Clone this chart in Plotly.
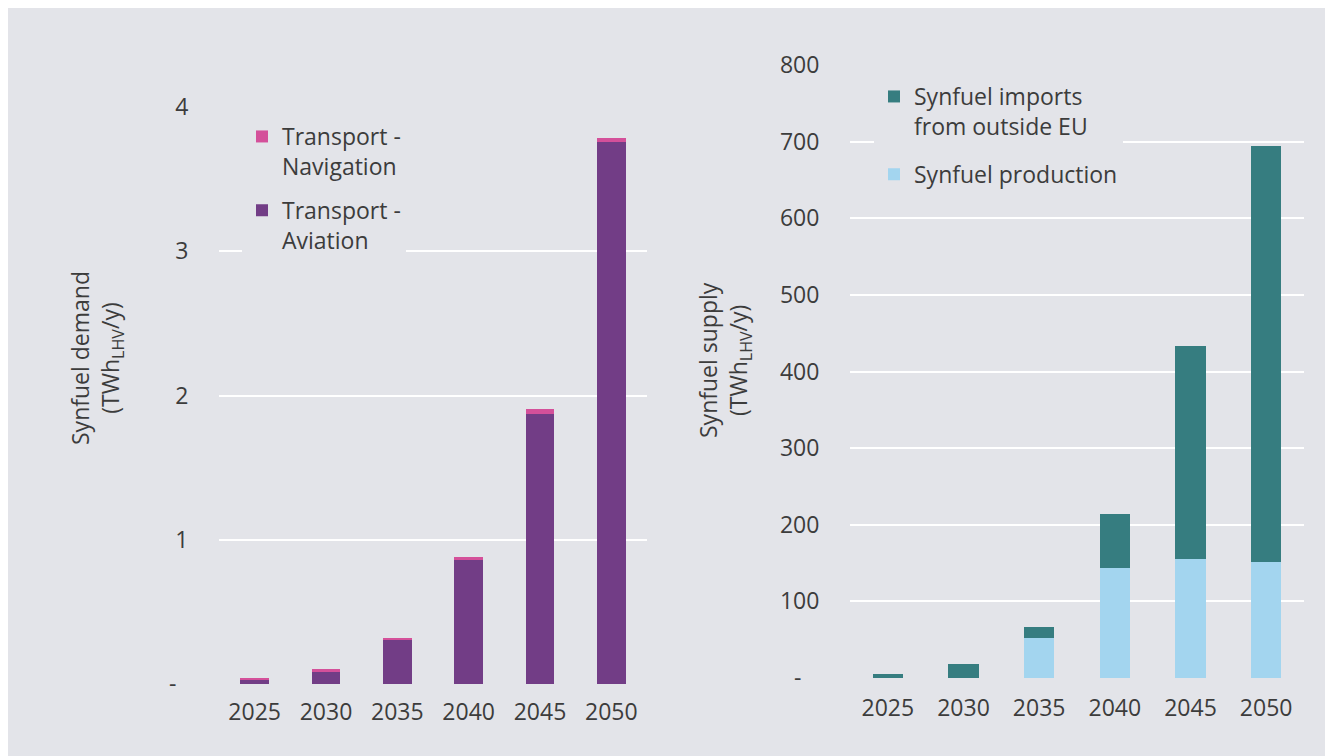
import plotly.graph_objects as go

years = ["2025", "2030", "2035", "2040", "2045", "2050"]

# left panel: synfuel demand (TWh LHV / y)
aviation = [0.03, 0.09, 0.31, 0.86, 1.875, 3.755]
navigation = [0.01, 0.012, 0.008, 0.02, 0.028, 0.03]

# right panel: synfuel supply (TWh LHV / y)
production = [0, 0, 52, 143, 155, 152]
imports = [5, 18, 14.5, 71, 278, 542]

left_ticks = [0, 1, 2, 3, 4]
left_ticktext = ["-\u00a0\u00a0", "1", "2", "3", "4"]
right_ticks = [0, 100, 200, 300, 400, 500, 600, 700, 800]
right_ticktext = ["-\u00a0\u00a0\u00a0", "100", "200", "300", "400", "500", "600", "700", "800"]

BG = "#E3E4E9"
TXT = "#3C3C3C"
FONT = "Open Sans"
FS = 23
W, H = 1333, 756

fig = go.Figure()
fig.add_trace(go.Bar(x=years, y=aviation, name="Transport -<br>Aviation",
                     marker_color="#723D86", marker_line_width=0, legendrank=2,
                     xaxis="x", yaxis="y", legend="legend", legendgroup="a"))
fig.add_trace(go.Bar(x=years, y=navigation, name="Transport -<br>Navigation",
                     marker_color="#D4509A", marker_line_width=0, legendrank=1,
                     xaxis="x", yaxis="y", legend="legend", legendgroup="b"))
fig.add_trace(go.Bar(x=years, y=production, name="Synfuel production",
                     marker_color="#A3D5EF", marker_line_width=0, legendrank=2,
                     xaxis="x2", yaxis="y2", legend="legend2", legendgroup="c"))
fig.add_trace(go.Bar(x=years, y=imports, name="Synfuel imports<br>from outside EU",
                     marker_color="#367D80", marker_line_width=0, legendrank=1,
                     xaxis="x2", yaxis="y2", legend="legend2", legendgroup="d"))

def px(v):
    return v / W

def py(v):
    return 1 - v / H

axis_common = dict(showline=False, zeroline=False, automargin=False,
                   tickfont=dict(family=FONT, size=FS, color=TXT))

fig.update_layout(
    width=W, height=H,
    paper_bgcolor=BG, plot_bgcolor=BG,
    barmode="stack", bargap=0.6,
    margin=dict(l=0, r=0, t=0, b=0, autoexpand=False),
    font=dict(family=FONT, color=TXT, size=FS),
    xaxis=dict(domain=[px(211), px(639)], anchor="y", showgrid=False,
               ticks="outside", ticklen=7, tickcolor="rgba(0,0,0,0)", **axis_common),
    yaxis=dict(domain=[py(676), py(99)], anchor="x", range=[0, 4],
               tickvals=left_ticks, ticktext=left_ticktext,
               showgrid=True, gridcolor="white", gridwidth=2,
               ticks="outside", ticklen=25, tickcolor="rgba(0,0,0,0)", **axis_common),
    xaxis2=dict(domain=[px(842), px(1296)], anchor="y2", showgrid=False,
                ticks="outside", ticklen=9, tickcolor="rgba(0,0,0,0)", **axis_common),
    yaxis2=dict(domain=[py(670), py(57)], anchor="x2", range=[0, 800],
                tickvals=right_ticks, ticktext=right_ticktext,
                showgrid=True, gridcolor="white", gridwidth=2,
                ticks="outside", ticklen=25, tickcolor="rgba(0,0,0,0)", **axis_common),
    legend=dict(x=px(234), y=py(107), xanchor="left", yanchor="top",
                bgcolor=BG, traceorder="grouped", tracegroupgap=11, valign="top",
                font=dict(family=FONT, size=FS, color=TXT)),
    legend2=dict(x=px(866), y=py(67), xanchor="left", yanchor="top",
                 bgcolor=BG, traceorder="grouped", tracegroupgap=15, valign="top",
                 font=dict(family=FONT, size=FS, color=TXT)),
    annotations=[
        dict(text="Synfuel demand<br>(TWh<sub>LHV</sub>/y)", textangle=-90,
             x=px(88), y=py(350), xref="paper", yref="paper", showarrow=False,
             xanchor="center", yanchor="middle",
             font=dict(family=FONT, size=FS, color=TXT)),
        dict(text="Synfuel supply<br>(TWh<sub>LHV</sub>/y)", textangle=-90,
             x=px(716), y=py(352), xref="paper", yref="paper", showarrow=False,
             xanchor="center", yanchor="middle",
             font=dict(family=FONT, size=FS, color=TXT)),
    ],
)

fig.write_html("out.html")
